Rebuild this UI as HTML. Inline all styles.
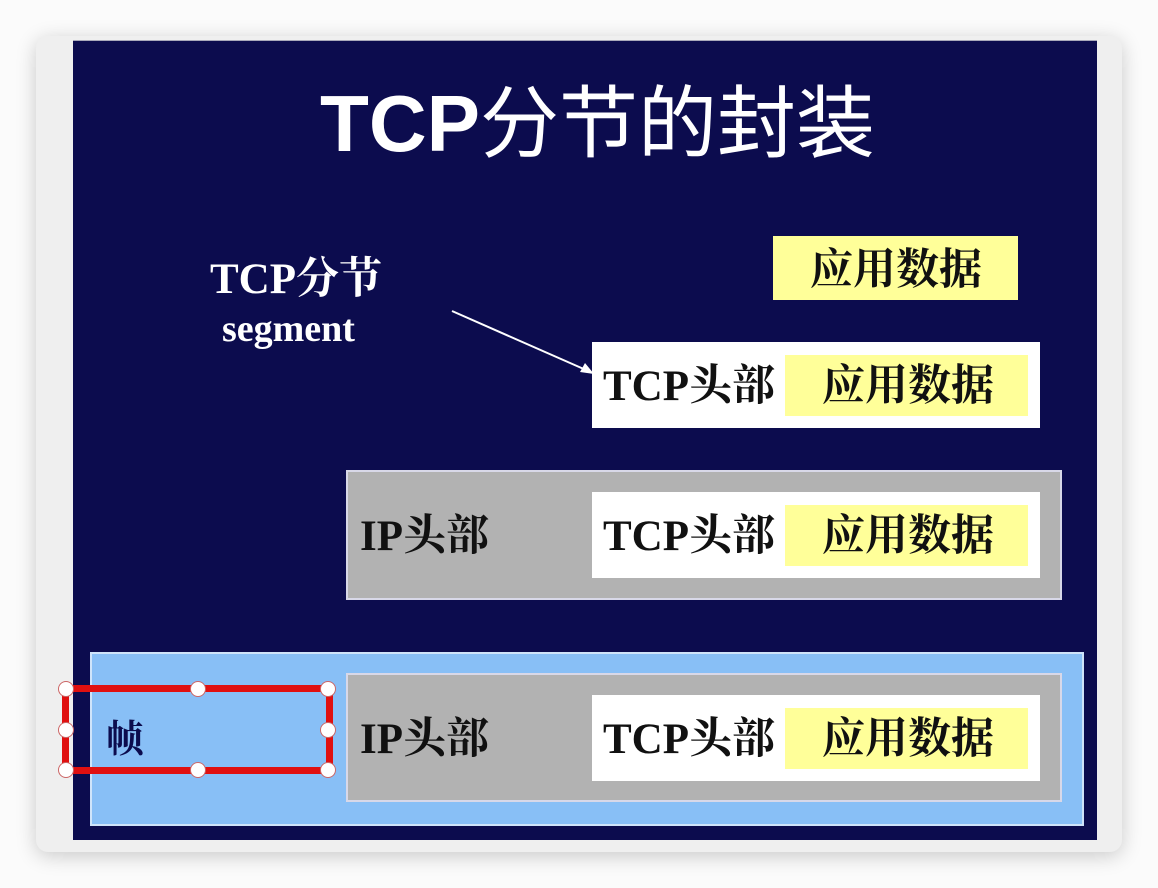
<!DOCTYPE html>
<html><head><meta charset="utf-8"><style>
body{margin:0;width:1158px;height:888px;background:#fbfbfb;position:relative;overflow:hidden;font-family:"Liberation Serif","Noto Serif CJK SC",serif}
div{position:absolute;box-sizing:border-box}
.t{font-weight:bold;font-size:43px;color:#111;white-space:nowrap;line-height:1}
.y{background:#ffff99}
.w{background:#fff}
.g{background:#b2b2b2;border:2px solid #d8d8e8}
.h{width:16px;height:16px;border-radius:50%;background:#fff;border:1px solid #c66;}
</style></head><body>
<div style="left:36px;top:36px;width:1086px;height:816px;background:#efefef;border-radius:12px;box-shadow:0 4px 20px rgba(0,0,0,.2)"></div>
<div style="left:73px;top:40px;width:1024px;height:800px;background:#0c0c4e;border-top:1px solid #aab"></div>
<div style="left:320px;top:81px;width:700px;color:#fff;line-height:86px;white-space:nowrap;font-family:'Liberation Sans','Noto Sans CJK SC',sans-serif"><span style="font-size:80px;font-weight:bold">TCP</span><span style="font-size:79px">分节的封装</span></div>
<div class="t" style="left:210px;top:258px;color:#fff">TCP分节</div>
<div class="t" style="left:222px;top:310px;color:#fff;font-size:38px">segment</div>
<svg style="position:absolute;left:0;top:0" width="1158" height="888"><line x1="452" y1="311" x2="586" y2="370" stroke="#fff" stroke-width="2"/><polygon points="594,374 580,372 585,363" fill="#fff"/></svg>
<div class="y" style="left:773px;top:236px;width:245px;height:64px"></div>
<div class="t" style="left:810px;top:249px">应用数据</div>
<div class="w" style="left:592px;top:342px;width:448px;height:86px"></div>
<div class="y" style="left:785px;top:355px;width:243px;height:61px"></div>
<div class="t" style="left:603px;top:365px">TCP头部</div>
<div class="t" style="left:822px;top:365px">应用数据</div>
<div class="g" style="left:346px;top:470px;width:716px;height:130px"></div>
<div class="t" style="left:360px;top:515px">IP头部</div>
<div class="w" style="left:592px;top:492px;width:448px;height:86px"></div>
<div class="y" style="left:785px;top:505px;width:243px;height:61px"></div>
<div class="t" style="left:603px;top:515px">TCP头部</div>
<div class="t" style="left:822px;top:515px">应用数据</div>
<div style="left:90px;top:652px;width:994px;height:174px;background:#88bff6;border:2px solid #cfe4fa"></div>
<div class="g" style="left:346px;top:673px;width:716px;height:129px"></div>
<div class="t" style="left:360px;top:718px">IP头部</div>
<div class="w" style="left:592px;top:695px;width:448px;height:86px"></div>
<div class="y" style="left:785px;top:708px;width:243px;height:61px"></div>
<div class="t" style="left:603px;top:718px">TCP头部</div>
<div class="t" style="left:822px;top:718px">应用数据</div>
<div class="t" style="left:106px;top:721px;font-size:38px;color:#0c0c4e">帧</div>
<div style="left:62px;top:685px;width:271px;height:89px;border:7px solid #e01010"></div>
<div class="h" style="left:58px;top:681px"></div><div class="h" style="left:190px;top:681px"></div><div class="h" style="left:320px;top:681px"></div>
<div class="h" style="left:58px;top:722px"></div><div class="h" style="left:320px;top:722px"></div>
<div class="h" style="left:58px;top:762px"></div><div class="h" style="left:190px;top:762px"></div><div class="h" style="left:320px;top:762px"></div>
</body></html>
